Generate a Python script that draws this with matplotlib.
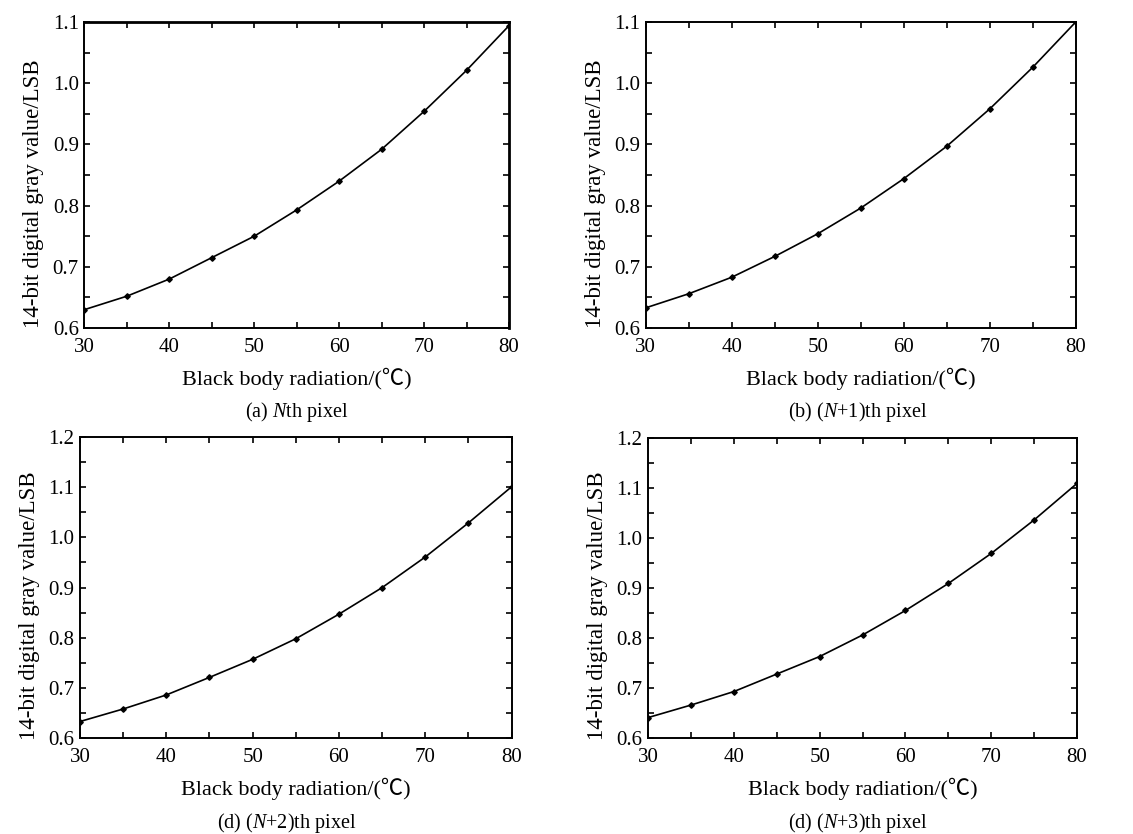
import numpy as np
import matplotlib
matplotlib.use('Agg')
import matplotlib.pyplot as plt
from matplotlib.ticker import MultipleLocator

plt.rcParams['font.family'] = ['Liberation Serif', 'Noto Sans CJK SC', 'DejaVu Sans']
plt.rcParams['mathtext.fontset'] = 'custom'
plt.rcParams['mathtext.rm'] = 'Liberation Serif'
plt.rcParams['mathtext.it'] = 'Liberation Serif:italic'

# blackbody temperature (deg C)
temps = [30, 35, 40, 45, 50, 55, 60, 65, 70, 75, 80]

# normalised 14-bit gray values
gray_n0 = [0.630, 0.652, 0.680, 0.715, 0.750, 0.793, 0.840, 0.892, 0.954, 1.021, 1.094]
gray_n1 = [0.633, 0.656, 0.683, 0.717, 0.754, 0.796, 0.844, 0.897, 0.958, 1.026, 1.100]
gray_n2 = [0.633, 0.658, 0.686, 0.721, 0.757, 0.798, 0.847, 0.900, 0.961, 1.029, 1.101]
gray_n3 = [0.641, 0.666, 0.693, 0.728, 0.763, 0.806, 0.855, 0.909, 0.969, 1.036, 1.109]

captions = ['(a) $N$th pixel', '(b) ($N$+1)th pixel',
            '(d) ($N$+2)th pixel', '(d) ($N$+3)th pixel']
ylims = [(0.6, 1.1), (0.6, 1.1), (0.6, 1.2), (0.6, 1.2)]

xlabel = 'Black body radiation/(\u2103)'
ylabel = '14-bit digital gray value/LSB'

# axes boxes in figure fractions [left, bottom, width, height]
boxes = [[0.0745, 0.6067, 0.3748, 0.367],
         [0.570, 0.6067, 0.3795, 0.367],
         [0.0706, 0.115, 0.381, 0.361],
         [0.572, 0.115, 0.3786, 0.360]]
cap_pos = [(0.262, 0.506), (0.757, 0.506), (0.253, 0.0135), (0.757, 0.0135)]

fig = plt.figure(figsize=(11.33, 8.34), dpi=100)

series = [gray_n0, gray_n1, gray_n2, gray_n3]
for i in range(4):
        ax = fig.add_axes(boxes[i])
        ax.plot(temps, series[i], color='black', lw=1.2)
        ax.plot(temps, series[i], 'D', color='black', ms=2.8)
        ax.set_xlim(30, 80)
        ax.set_ylim(*ylims[i])
        ax.xaxis.set_major_locator(MultipleLocator(10))
        ax.xaxis.set_minor_locator(MultipleLocator(5))
        ax.yaxis.set_major_locator(MultipleLocator(0.1))
        ax.yaxis.set_minor_locator(MultipleLocator(0.05))
        ax.yaxis.set_major_formatter(matplotlib.ticker.FormatStrFormatter('%.1f'))
        ax.tick_params(which='both', direction='in', top=True, right=True,
                       length=4, width=1.2, labelsize=15, pad=4)
        ax.tick_params(axis='x', which='major', pad=7)
        for s in ax.spines.values():
                s.set_linewidth(1.4)
        if i == 0:
                ax.spines['top'].set_linewidth(2)
                ax.spines['right'].set_linewidth(2)
        ax.set_xlabel(xlabel, fontsize=16, labelpad=8)
        ax.set_ylabel(ylabel, fontsize=16.5, labelpad=6)
        ax.yaxis.label.set_y(0.44)
        fig.text(cap_pos[i][0], cap_pos[i][1], captions[i], fontsize=14.5,
                 ha='center', va='center')

fig.savefig('out.png', dpi=100)
